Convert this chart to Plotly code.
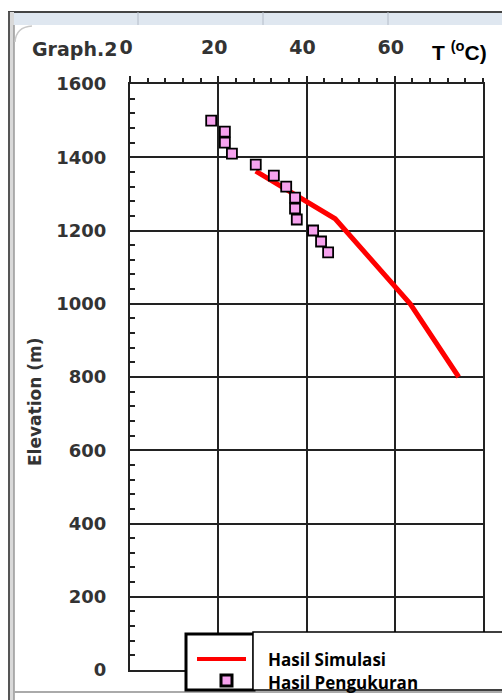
import plotly.graph_objects as go

# Simulated temperature profile (line)
sim_temp = [28.5, 40.0, 46.5, 63.5, 74.5]
sim_elev = [1362, 1280, 1232, 1000, 800]

# Measured temperatures (square markers)
meas_temp = [18.4, 21.5, 21.5, 23.1, 28.5, 32.6, 35.4, 37.4, 37.4, 37.8, 41.5, 43.3, 44.9]
meas_elev = [1500, 1470, 1440, 1410, 1380, 1350, 1320, 1290, 1260, 1230, 1200, 1170, 1140]

x_ticks = [0, 20, 40, 60]
y_ticks = [0, 200, 400, 600, 800, 1000, 1200, 1400, 1600]

legend_labels = ["Hasil Simulasi", "Hasil Pengukuran"]

W, H = 502, 700
L, R, T, B = 130, 19, 84, 30
PW, PH = W - L - R, H - T - B


def px(x):
    return (x - L) / PW


def py(y):
    return (H - B - y) / PH


PINK = "#f6a2ee"
tick_font = dict(family="DejaVu Sans", size=18, color="#333333", weight="bold")

fig = go.Figure()

fig.add_trace(go.Scatter(
    x=sim_temp, y=sim_elev, mode="lines",
    line=dict(color="#ff0000", width=5),
    name=legend_labels[0], showlegend=False,
))
fig.add_trace(go.Scatter(
    x=meas_temp, y=meas_elev, mode="markers",
    marker=dict(symbol="square", size=10, color=PINK,
                line=dict(color="black", width=1.8)),
    name=legend_labels[1], showlegend=False,
))

fig.update_xaxes(
    range=[0, 80], side="top",
    tickvals=x_ticks, ticktext=[str(v) for v in x_ticks],
    tickfont=dict(family="DejaVu Sans", size=19, color="#333333", weight="bold"),
    ticks="outside", ticklen=6, tickwidth=2, tickcolor="#222",
    ticklabelstandoff=14, ticklabelshift=-4,
    minor=dict(dtick=4, ticks="outside", ticklen=4, tickwidth=1.5, tickcolor="#222"),
    showgrid=True, gridcolor="#222", gridwidth=2,
    showline=True, linecolor="#222", linewidth=2, mirror=True,
    zeroline=False,
)
fig.update_yaxes(
    range=[0, 1600],
    tickvals=y_ticks, ticktext=[str(v) for v in y_ticks],
    tickfont=tick_font,
    ticks="inside", ticklen=5, tickwidth=2, tickcolor="#222",
    ticklabelstandoff=18,
    minor=dict(dtick=40, ticks="inside", ticklen=5, tickwidth=1.5, tickcolor="#222"),
    showgrid=True, gridcolor="#222", gridwidth=2,
    showline=True, linecolor="#222", linewidth=2, mirror=True,
    zeroline=False,
)

shapes = []
# window frame around the chart
shapes.append(dict(type="rect", xref="paper", yref="paper",
                   x0=px(8), x1=px(503), y0=py(12), y1=py(25),
                   fillcolor="#dfe7f0", line=dict(width=0), layer="below"))
shapes.append(dict(type="line", xref="paper", yref="paper",
                   x0=px(8), x1=px(503), y0=py(12), y1=py(12),
                   line=dict(color="#444", width=2)))
for cx in [138, 263, 388]:
    shapes.append(dict(type="line", xref="paper", yref="paper",
                       x0=px(cx), x1=px(cx), y0=py(12), y1=py(25),
                       line=dict(color="#b4bcc8", width=1)))
shapes.append(dict(type="rect", xref="paper", yref="paper",
                   x0=px(8), x1=px(14), y0=py(12), y1=py(701),
                   fillcolor="#d9d9d9", line=dict(width=0)))
shapes.append(dict(type="line", xref="paper", yref="paper",
                   x0=px(9), x1=px(9), y0=py(12), y1=py(701),
                   line=dict(color="#555", width=2)))
shapes.append(dict(type="line", xref="paper", yref="paper",
                   x0=px(14), x1=px(14), y0=py(25), y1=py(701),
                   line=dict(color="#999", width=1.5)))
shapes.append(dict(type="line", xref="paper", yref="paper",
                   x0=px(14), x1=px(503), y0=py(692), y1=py(692),
                   line=dict(color="#aaa", width=2)))
shapes.append(dict(type="path", xref="paper", yref="paper",
                   path=f"M {px(15)},{py(42)} Q {px(16)},{py(27)} {px(32)},{py(26)}",
                   line=dict(color="#c8c8c8", width=1.5)))

# legend boxes
shapes.append(dict(type="rect", xref="paper", yref="paper",
                   x0=px(186), x1=px(254), y0=py(634), y1=py(690),
                   fillcolor="white", line=dict(color="black", width=3), layer="above"))
shapes.append(dict(type="rect", xref="paper", yref="paper",
                   x0=px(253), x1=px(504), y0=py(632), y1=py(690),
                   fillcolor="white", line=dict(color="black", width=1.5), layer="above"))
shapes.append(dict(type="line", xref="paper", yref="paper",
                   x0=px(197), x1=px(246), y0=py(659), y1=py(659),
                   line=dict(color="#ff0000", width=4), layer="above"))
shapes.append(dict(type="rect", xref="paper", yref="paper",
                   x0=px(221), x1=px(232), y0=py(675), y1=py(686),
                   fillcolor=PINK, line=dict(color="black", width=3), layer="above"))

legend_font = dict(family="Open Sans", size=17, color="black", weight="bold")

annotations = [
    dict(text="Graph.2", xref="paper", yref="paper", x=px(119), y=py(49),
         xanchor="right", yanchor="middle", showarrow=False,
         font=dict(family="DejaVu Sans", size=19, color="#333333", weight="bold")),
    dict(text="T <sup>(o</sup>C)", xref="paper", yref="paper", x=px(430), y=py(51),
         xanchor="left", yanchor="middle", showarrow=False,
         font=dict(family="Liberation Sans", size=21, color="black", weight="bold")),
    dict(text="Elevation (m)", xref="paper", yref="paper", x=px(35), y=py(402),
         xanchor="center", yanchor="middle", textangle=-90, showarrow=False,
         font=dict(family="DejaVu Sans", size=17, color="#333333", weight="bold")),
    dict(text=legend_labels[0], xref="paper", yref="paper", x=px(266), y=py(659),
         xanchor="left", yanchor="middle", showarrow=False, font=legend_font),
    dict(text=legend_labels[1], xref="paper", yref="paper", x=px(266), y=py(682),
         xanchor="left", yanchor="middle", showarrow=False, font=legend_font),
]

fig.update_layout(
    width=W, height=H,
    margin=dict(l=L, r=R, t=T, b=B),
    paper_bgcolor="white", plot_bgcolor="white",
    showlegend=False,
    shapes=shapes, annotations=annotations,
)

fig.write_html("out.html")
